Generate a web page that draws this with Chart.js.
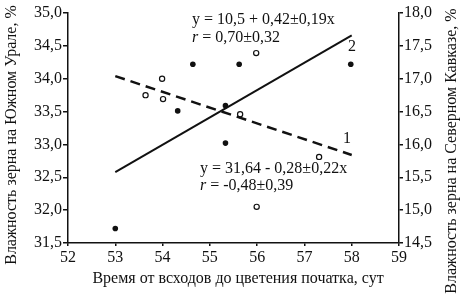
<!DOCTYPE html>
<html>
<head>
<meta charset="utf-8">
<script src="https://cdn.jsdelivr.net/npm/chart.js@4.4.0/dist/chart.umd.min.js"></script>
<style>
  body { margin: 0; background: #fff; }
</style>
</head>
<body>
<canvas id="chart" width="465" height="300"></canvas>
<script>
// filled dots, line 2 (left axis) - Южный Урал
var daysUral = [53, 54.32, 54.64, 55.33, 55.33, 55.62, 57.98];
var moistUral = [31.72, 33.51, 34.22, 33.59, 33.02, 34.22, 34.22];
// open dots, line 1 (right axis) - Северный Кавказ
var daysCaucasus = [53.64, 53.99, 54.01, 55.64, 55.98, 55.99, 57.31];
var moistCaucasus = [16.75, 17.0, 16.69, 16.46, 17.39, 15.05, 15.81];
// regression lines, ends
var trendDays = [53, 58];
var trendUral = [32.58, 34.66];
var trendCaucasus = [17.04, 15.84];
// axes
var xRange = [52, 59];
var leftRange = [31.5, 35.0];
var rightRange = [14.5, 18.0];

var fontFamily = "'Liberation Serif', 'Times New Roman', serif";
var ink = '#111';

function pts(xs, ys) {
    return xs.map(function(x, i) { return { x: x, y: ys[i] }; });
}
function comma(v) {
    return v.toFixed(1).replace('.', ',');
}

var textPlugin = {
    id: 'texts',
    afterDraw: function(chart) {
        var ctx = chart.ctx;
        ctx.save();
        ctx.fillStyle = ink;
        ctx.textBaseline = 'middle';
        var normal = '16px ' + fontFamily;
        var italic = 'italic 16px ' + fontFamily;

        function rLine(x, y, rest) {
            ctx.textAlign = 'left';
            ctx.font = italic;
            ctx.fillText('r', x, y);
            var w = ctx.measureText('r').width;
            ctx.font = normal;
            ctx.fillText(rest, x + w, y);
        }

        ctx.font = normal;
        ctx.textAlign = 'left';
        ctx.fillText('y = 10,5 + 0,42\u00b10,19x', 192, 20);
        rLine(192, 38, ' = 0,70\u00b10,32');
        ctx.fillText('y = 31,64 - 0,28\u00b10,22x', 200, 169);
        rLine(200, 186, ' = -0,48\u00b10,39');

        ctx.textAlign = 'center';
        ctx.fillText('2', 352, 47);
        ctx.fillText('1', 347, 139);

        // axis titles
        ctx.fillText('Время от всходов до цветения початка, сут', 238, 279);

        ctx.save();
        ctx.translate(12, 135);
        ctx.rotate(-Math.PI / 2);
        ctx.fillText('Влажность зерна на Южном Урале, %', 0, 0);
        ctx.restore();

        ctx.save();
        ctx.translate(452, 151);
        ctx.rotate(-Math.PI / 2);
        ctx.fillText('Влажность зерна на Северном Кавказе, %', 0, 0);
        ctx.restore();

        ctx.restore();
    }
};

var ctx = document.getElementById('chart').getContext('2d');

var chart = new Chart(ctx, {
    type: 'scatter',
    data: {
        datasets: [
            {
                type: 'line',
                data: pts(trendDays, trendUral),
                yAxisID: 'y',
                borderColor: ink,
                borderWidth: 2,
                pointRadius: 0,
                fill: false
            },
            {
                type: 'line',
                data: pts(trendDays, trendCaucasus),
                yAxisID: 'y2',
                borderColor: ink,
                borderWidth: 2.5,
                borderDash: [10, 6],
                pointRadius: 0,
                fill: false
            },
            {
                data: pts(daysUral, moistUral),
                yAxisID: 'y',
                backgroundColor: ink,
                borderColor: ink,
                borderWidth: 0,
                pointRadius: 2.8
            },
            {
                data: pts(daysCaucasus, moistCaucasus),
                yAxisID: 'y2',
                backgroundColor: '#fff',
                borderColor: ink,
                borderWidth: 1.2,
                pointRadius: 2.6
            }
        ]
    },
    options: {
        responsive: false,
        animation: false,
        layout: { padding: { top: 13, left: 0, right: 0, bottom: 0 } },
        plugins: {
            legend: { display: false },
            tooltip: { enabled: false }
        },
        scales: {
            x: {
                type: 'linear',
                min: xRange[0],
                max: xRange[1],
                ticks: {
                    stepSize: 1,
                    color: ink,
                    padding: 2,
                    font: { family: fontFamily, size: 16 }
                },
                grid: { drawOnChartArea: false, tickLength: 3, color: ink, lineWidth: 1.5 },
                border: { color: ink, width: 1.5 },
                afterFit: function(scale) { scale.height = 57; }
            },
            y: {
                position: 'left',
                min: leftRange[0],
                max: leftRange[1],
                ticks: {
                    stepSize: 0.5,
                    color: ink,
                    padding: 1,
                    font: { family: fontFamily, size: 16 },
                    callback: function(v) { return comma(v); }
                },
                grid: { drawOnChartArea: false, tickLength: 5, color: ink, lineWidth: 1.5 },
                border: { color: ink, width: 1.5 },
                afterFit: function(scale) { scale.width = 68; }
            },
            y2: {
                position: 'right',
                min: rightRange[0],
                max: rightRange[1],
                ticks: {
                    stepSize: 0.5,
                    color: ink,
                    padding: 1,
                    font: { family: fontFamily, size: 16 },
                    callback: function(v) { return comma(v); }
                },
                grid: { drawOnChartArea: false, tickLength: 4, color: ink, lineWidth: 1.5 },
                border: { color: ink, width: 1.5 },
                afterFit: function(scale) { scale.width = 66; }
            }
        }
    },
    plugins: [textPlugin]
});
</script>
</body>
</html>
